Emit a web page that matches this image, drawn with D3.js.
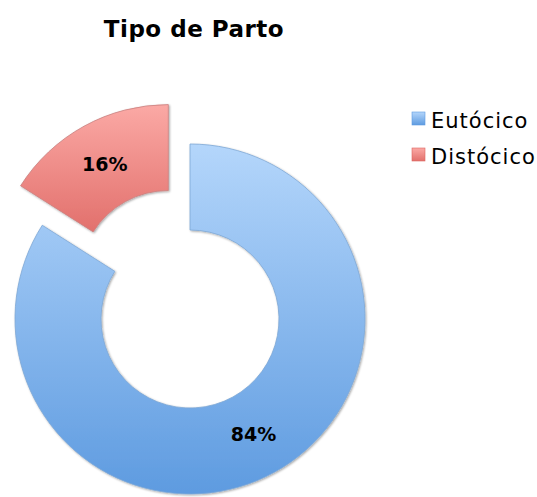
<!DOCTYPE html>
<html>
<head>
<meta charset="utf-8">
<script src="https://cdn.jsdelivr.net/npm/d3@7"></script>
<style>
  body { margin: 0; background: #fff; }
  text { font-family: "DejaVu Sans", Verdana, sans-serif; }
</style>
</head>
<body>
<svg id="Chart"></svg>
<script>
// data
let categories = ["Eutócico", "Distócico"]
let values = [84, 16]
let labels = ["84%", "16%"]

function getConfig() {
  let width = 537
  let height = 497
  let cx = 190, cy = 319
  let outer = 175, inner = 89
  let explode = 45
  let container = d3.select("#Chart")
    .attr("width", width)
    .attr("height", height)
  return { width, height, cx, cy, outer, inner, explode, container }
}

function addGradients(container) {
  let defs = container.append("defs")
  let stops = [
    ["gradBlue", "#b4d6fb", "#5e9be0"],
    ["gradRed", "#fba9a5", "#e2706c"]
  ]
  stops.forEach(s => {
    let g = defs.append("linearGradient")
      .attr("id", s[0])
      .attr("x1", 0).attr("y1", 0).attr("x2", 0).attr("y2", 1)
    g.append("stop").attr("offset", "0%").attr("stop-color", s[1])
    g.append("stop").attr("offset", "100%").attr("stop-color", s[2])
  })
  let f = defs.append("filter").attr("id", "shadow")
    .attr("x", "-10%").attr("y", "-10%").attr("width", "120%").attr("height", "120%")
  f.append("feDropShadow")
    .attr("dx", 1).attr("dy", 1).attr("stdDeviation", 1.2)
    .attr("flood-color", "#000").attr("flood-opacity", 0.35)
}

function drawDonut(config) {
  let { container, cx, cy, outer, inner, explode } = config
  let fills = ["url(#gradBlue)", "url(#gradRed)"]
  let pie = d3.pie().sort(null).value(d => d)
  let arcs = pie(values)
  let arc = d3.arc().innerRadius(inner).outerRadius(outer)

  let body = container.append("g")
    .attr("transform", `translate(${cx},${cy})`)

  let slices = body.selectAll(".slice")
    .data(arcs)
    .enter().append("g")
    .attr("class", "slice")
    .attr("transform", (d, i) => {
      if (i !== 1) return null
      let mid = (d.startAngle + d.endAngle) / 2
      return `translate(${explode * Math.sin(mid)},${-explode * Math.cos(mid)})`
    })

  slices.append("path")
    .attr("d", arc)
    .attr("fill", (d, i) => fills[i])
    .attr("stroke", (d, i) => i === 0 ? "#7fa8d6" : "#c98280")
    .attr("stroke-width", 0.8)
    .attr("filter", "url(#shadow)")

  slices.append("text")
    .attr("x", d => arc.centroid(d)[0])
    .attr("y", d => arc.centroid(d)[1])
    .attr("dy", "0.35em")
    .attr("text-anchor", "middle")
    .style("font-size", "19px")
    .style("font-weight", "bold")
    .text((d, i) => labels[i])
}

function drawTitle(config) {
  config.container.append("text")
    .attr("x", 194)
    .attr("y", 37)
    .attr("text-anchor", "middle")
    .style("font-size", "23px")
    .style("font-weight", "bold")
    .style("letter-spacing", "0.5px")
    .text("Tipo de Parto")
}

function drawLegend(config) {
  let strokes = ["#5f9be0", "#dc6460"]
  let legend = config.container.append("g")
    .attr("transform", "translate(412,112)")
  let items = legend.selectAll(".item")
    .data(categories)
    .enter().append("g")
    .attr("transform", (d, i) => `translate(0,${i * 36})`)
  items.append("rect")
    .attr("width", 13).attr("height", 13)
    .attr("fill", (d, i) => i === 0 ? "url(#gradBlue)" : "url(#gradRed)")
    .attr("stroke", (d, i) => strokes[i])
    .attr("stroke-width", 0.6)
  items.append("text")
    .attr("x", 19)
    .attr("y", 16)
    .style("font-size", "21px")
    .style("letter-spacing", "1px")
    .text(d => d)
}

let config = getConfig()
addGradients(config.container)
drawTitle(config)
drawDonut(config)
drawLegend(config)
</script>
</body>
</html>
